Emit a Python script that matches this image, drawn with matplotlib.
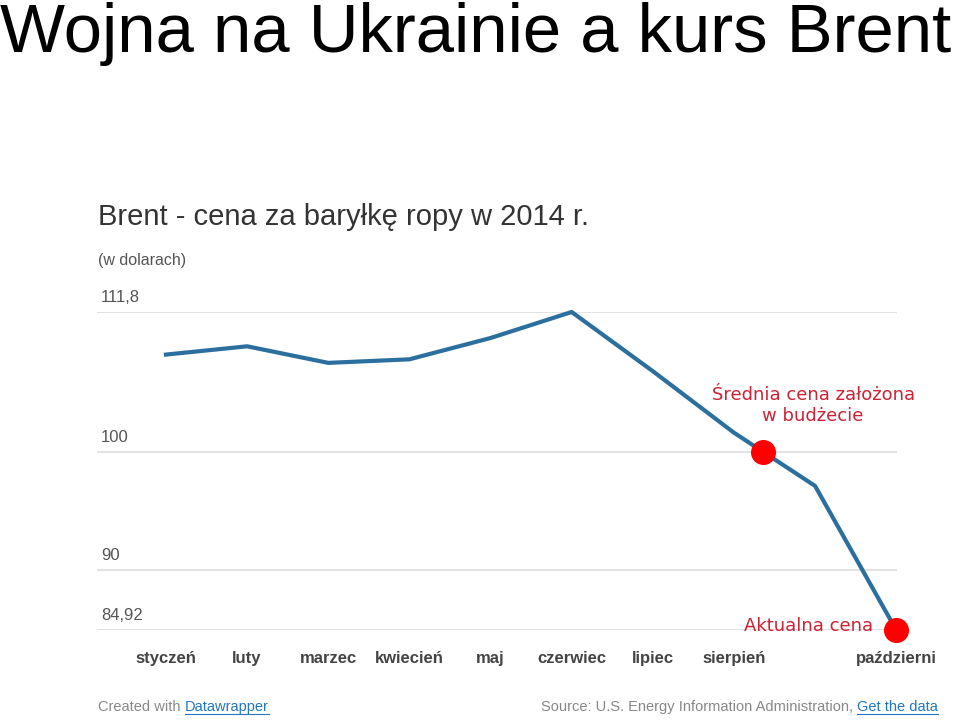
import numpy as np
import matplotlib
matplotlib.use("Agg")
import matplotlib.pyplot as plt
from matplotlib.lines import Line2D

# Brent price per barrel in 2014 (USD)
months = ['styczeń', 'luty', 'marzec', 'kwiecień', 'maj', 'czerwiec',
          'lipiec', 'sierpień', '', 'październi']
prices = [108.2, 108.9, 107.5, 107.8, 109.6, 111.8, 106.8, 101.6, 97.1, 84.92]
y_ticks = [111.8, 100, 90, 84.92]
y_tick_labels = ['111,8', '100', '90', '84,92']
budget_price = 100
current_price = 84.92

sans = ['Liberation Sans', 'DejaVu Sans']

W, H = 960, 724
fig = plt.figure(figsize=(W / 100, H / 100), dpi=100)
fig.patch.set_facecolor('white')

def fx(px):
    return px / W

def fy(py):
    return 1 - py / H

# big slide title
fig.text(fx(0), fy(52), 'Wojna na Ukrainie a kurs Brent', family=sans,
         fontsize=49.6, color='black', ha='left', va='baseline')

# chart heading
fig.text(fx(98), fy(225), 'Brent - cena za baryłkę ropy w 2014 r.', family=sans,
         fontsize=21, color='#333333', ha='left', va='baseline')
fig.text(fx(98), fy(265), '(w dolarach)', family=sans,
         fontsize=11.5, color='#555555', ha='left', va='baseline')

ax = fig.add_axes([fx(97), fy(630), fx(800), (630 - 312) / H])
x = np.arange(len(months))
ax.set_xlim(-0.85, 9.01)
ax.set_ylim(84.92, 111.8)

for v, lab in zip(y_ticks, y_tick_labels):
    ax.axhline(v, color='#dddddd', lw=1.2, zorder=1)
    ax.annotate(lab, xy=(0, v), xycoords=('axes fraction', 'data'),
                xytext=(3, 5), textcoords='offset points', family=sans,
                fontsize=12, color='#555555', ha='left', va='bottom')

ax.plot(x, prices, color='#2b6f9f', lw=3, solid_joinstyle='round',
        clip_on=False, zorder=3)

# where the line crosses the budget price
budget_x = np.interp(budget_price, prices[::-1], x[::-1])
ax.plot([budget_x, x[-1]], [budget_price, current_price], 'o', color='#ff0000',
        ms=17, mec='#ff0000', clip_on=False, zorder=4)

ax.text(budget_x + 0.62, 103.9, 'Średnia cena założona\nw budżecie',
        family='DejaVu Sans', fontsize=13, color='#cc2233', ha='center',
        va='center', linespacing=1.2)
ax.text(x[-1] - 0.28, current_price + 0.3, 'Aktualna cena', family='DejaVu Sans',
        fontsize=13, color='#cc2233', ha='right', va='center')

ax.set_xticks(x)
ax.set_xticklabels(months, family=sans, fontsize=12, fontweight='bold',
                   color='#444444')
ax.tick_params(axis='x', length=0, pad=15)
ax.set_yticks([])
for s in ax.spines.values():
    s.set_visible(False)
ax.patch.set_alpha(0)

# footer
gray = '#888888'
blue = '#1f77c4'
t1 = fig.text(fx(98), fy(711), 'Created with ', family=sans, fontsize=10.5,
              color=gray, ha='left', va='baseline')
fig.canvas.draw()
r = fig.canvas.get_renderer()
bb = t1.get_window_extent(r)
t2 = fig.text(bb.x1 / W, fy(711), 'Datawrapper', family=sans, fontsize=10.5,
              color=blue, ha='left', va='baseline')
t3 = fig.text(fx(938), fy(711), 'Get the data', family=sans, fontsize=10.5,
              color=blue, ha='right', va='baseline')
fig.canvas.draw()
bb3 = t3.get_window_extent(r)
fig.text(bb3.x0 / W, fy(711), 'Source: U.S. Energy Information Administration, ',
         family=sans, fontsize=10.5, color=gray, ha='right', va='baseline')
for t in (t2, t3):
    b = t.get_window_extent(r)
    fig.add_artist(Line2D([b.x0 / W, b.x1 / W], [fy(714), fy(714)],
                          color=blue, lw=0.8))

fig.savefig('out.png', dpi=100, facecolor='white')
